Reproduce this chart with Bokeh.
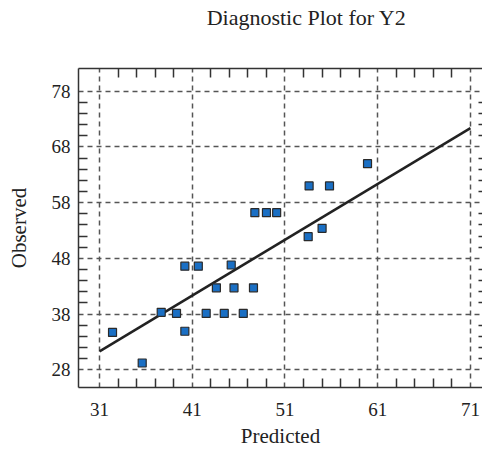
from bokeh.plotting import figure
from bokeh.models import FixedTicker, LinearAxis, Range1d
from bokeh.embed import file_html
from bokeh.resources import INLINE

# Data
predicted = [32.4, 35.6, 37.65, 39.3, 40.2, 40.2, 41.65, 45.2, 43.6, 45.5, 47.6,
             42.5, 44.45, 46.5, 47.75, 49.0, 50.1, 59.9, 53.6, 55.8, 55.0, 53.5]
observed = [34.7, 29.2, 38.3, 38.1, 34.9, 46.6, 46.6, 46.8, 42.7, 42.7, 42.7,
            38.1, 38.1, 38.1, 56.2, 56.2, 56.2, 65.0, 61.0, 61.0, 53.4, 51.9]
fit_x = [31, 71]
fit_y = [31.3, 71.4]
x_ticks = [31, 41, 51, 61, 71]
y_ticks = [28, 38, 48, 58, 68, 78]
x_minor = [33, 35, 37, 39, 43, 45, 47, 49, 53, 55, 57, 59, 63, 65, 67, 69]
y_minor = [30, 32, 34, 36, 40, 42, 44, 46, 50, 52, 54, 56, 60, 62, 64, 66, 70, 72, 74, 76]
title_text = "Diagnostic Plot for Y2"

FONT = "Liberation Serif"
TXT = "#222222"
AX = "#333333"

X0, X1 = 28.73, 72.3
p = figure(width=482, height=450, output_backend="svg", toolbar_location=None,
           x_range=Range1d(X0, X1), y_range=Range1d(24.8, 82.1),
           min_border_left=78, min_border_right=0, min_border_top=68,
           min_border_bottom=63)
p.outline_line_color = None
p.background_fill_color = "white"
p.border_fill_color = "white"

xt = FixedTicker(ticks=x_ticks, minor_ticks=x_minor)
yt = FixedTicker(ticks=y_ticks, minor_ticks=y_minor)

def style(ax):
    ax.axis_line_color = AX
    ax.axis_line_width = 1.5
    ax.major_tick_in = 0
    ax.major_tick_out = 0
    ax.minor_tick_in = 9
    ax.minor_tick_out = 0
    ax.minor_tick_line_color = AX
    ax.minor_tick_line_width = 1.5
    ax.major_label_text_font = FONT
    ax.major_label_text_font_size = "19px"
    ax.major_label_text_color = TXT
    ax.axis_label_text_font = FONT
    ax.axis_label_text_font_size = "21px"
    ax.axis_label_text_font_style = "normal"
    ax.axis_label_text_color = TXT

p.xaxis.ticker = xt
p.yaxis.ticker = yt
style(p.xaxis[0])
style(p.yaxis[0])
p.xaxis.axis_label = "Predicted"
p.yaxis.axis_label = "Observed"
p.xaxis.major_label_standoff = 15
p.xaxis.axis_label_standoff = 5
p.yaxis.major_label_standoff = 8
p.yaxis.axis_label_standoff = 18

# top axis: inward minor ticks; its single label carries the chart title,
# centred where the reference title sits (56.45% across the frame)
title_pos = X0 + 0.5645 * (X1 - X0)
top = LinearAxis(ticker=FixedTicker(ticks=[title_pos], minor_ticks=x_minor),
                 major_label_overrides={title_pos: title_text})
style(top)
top.major_label_text_font_size = "22px"
top.major_label_standoff = 39
p.add_layout(top, "above")

right = LinearAxis(ticker=FixedTicker(ticks=[], minor_ticks=y_minor))
style(right)
right.axis_line_color = None
right.minor_tick_in = 4
p.add_layout(right, "right")

p.xgrid.ticker = xt
p.ygrid.ticker = yt
for g in (p.xgrid[0], p.ygrid[0]):
    g.grid_line_color = "#555555"
    g.grid_line_width = 1.5
    g.grid_line_dash = "5 4"

p.line(fit_x, fit_y, line_color="#222222", line_width=2.5)
p.scatter(predicted, observed, marker="square", size=8,
          fill_color="#1a6fc4", line_color="#2a2a2a", line_width=1.2)

open("out.html", "w").write(file_html(p, INLINE))
